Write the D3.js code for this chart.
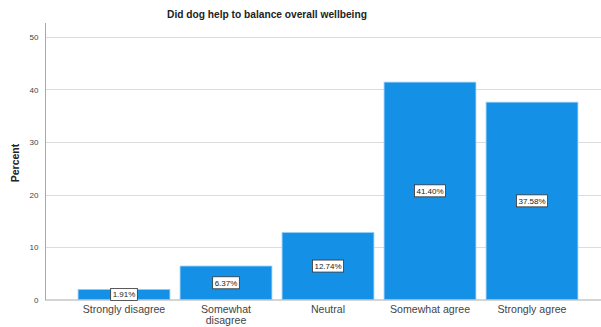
<!DOCTYPE html>
<html><head><meta charset="utf-8">
<script src="https://cdn.jsdelivr.net/npm/d3@7"></script>
<style>body{margin:0;background:#fff}svg{display:block}</style>
</head><body>
<svg id="c" width="601" height="327"></svg>
<script>
const categories = ["Strongly disagree", "Somewhat disagree", "Neutral", "Somewhat agree", "Strongly agree"];
const percents = [1.91, 6.37, 12.74, 41.40, 37.58];
const yTicks = [0, 10, 20, 30, 40, 50];
const title = "Did dog help to balance overall wellbeing";
const yLabel = "Percent";

const svg = d3.select("#c");
const font = "'Liberation Sans', Arial, sans-serif";

const y = d3.scaleLinear().domain([0, 50]).range([299.5, 37]);
const x = d3.scaleBand().domain(categories).range([73, 583]).paddingInner(0.1).paddingOuter(0.05);

// gridlines
svg.append("g").selectAll("line").data(yTicks.filter(d => d > 0)).join("line")
  .attr("x1", 45).attr("x2", 601)
  .attr("y1", d => Math.round(y(d)) + 0.5).attr("y2", d => Math.round(y(d)) + 0.5)
  .attr("stroke", "#dcdcdc").attr("stroke-width", 1);

// y axis
const yAxis = d3.axisLeft(y).tickValues(yTicks).tickSize(0).tickPadding(7).tickFormat(d3.format("d"));
const yg = svg.append("g").attr("transform", "translate(45.5,0)").call(yAxis);
yg.select(".domain").remove();
yg.selectAll("text").attr("font-family", font).attr("font-size", 8).attr("fill", "#444");
svg.append("line").attr("x1", 45.5).attr("x2", 45.5).attr("y1", 23).attr("y2", 300)
  .attr("stroke", "#aaa");

// bars
svg.append("g").selectAll("rect").data(percents).join("rect")
  .attr("x", (d, i) => x(categories[i]))
  .attr("width", x.bandwidth())
  .attr("y", d => y(d))
  .attr("height", d => y(0) - y(d))
  .attr("fill", "#1490e6")
  .attr("stroke", "#8fcbf5").attr("stroke-width", 0.8);

// baseline
svg.append("line").attr("x1", 45).attr("x2", 601).attr("y1", 300).attr("y2", 300)
  .attr("stroke", "#aaa");

// x axis labels
const xAxis = d3.axisBottom(x).tickSize(0).tickPadding(5);
const xg = svg.append("g").attr("transform", "translate(0,300)").call(xAxis);
xg.select(".domain").remove();
xg.selectAll("text").attr("font-family", font).attr("font-size", 10.6).attr("fill", "#444")
  .each(function(d) {
    if (d === "Somewhat disagree") {
      const t = d3.select(this);
      t.text(null);
      t.append("tspan").attr("x", 0).attr("dy", "0.71em").text("Somewhat");
      t.append("tspan").attr("x", 0).attr("dy", "1.12em").text("disagree");
      t.attr("dy", null);
    }
  });

// data labels
const lg = svg.append("g").selectAll("g").data(percents).join("g")
  .attr("transform", (d, i) => `translate(${x(categories[i]) + x.bandwidth() / 2},${(y(d) + y(0)) / 2})`);
lg.each(function(d) {
  const g = d3.select(this);
  const t = g.append("text").attr("text-anchor", "middle").attr("dy", "0.35em")
    .attr("font-family", font).attr("font-size", 8).attr("fill", "#222")
    .text(d.toFixed(2) + "%");
  const bb = t.node().getBBox();
  g.insert("rect", "text").attr("x", bb.x - 2).attr("y", -6).attr("width", bb.width + 4).attr("height", 12)
    .attr("fill", "#fff").attr("stroke", "#333").attr("stroke-width", 0.8);
});

// title
svg.append("text").attr("x", 267).attr("y", 18).attr("text-anchor", "middle")
  .attr("font-family", font).attr("font-size", 10.2).attr("font-weight", "bold").attr("fill", "#222")
  .text(title);

// y label
svg.append("text").attr("transform", "translate(19,163) rotate(-90)").attr("text-anchor", "middle")
  .attr("font-family", font).attr("font-size", 10.5).attr("font-weight", "bold").attr("fill", "#222")
  .text(yLabel);
</script>
</body></html>
